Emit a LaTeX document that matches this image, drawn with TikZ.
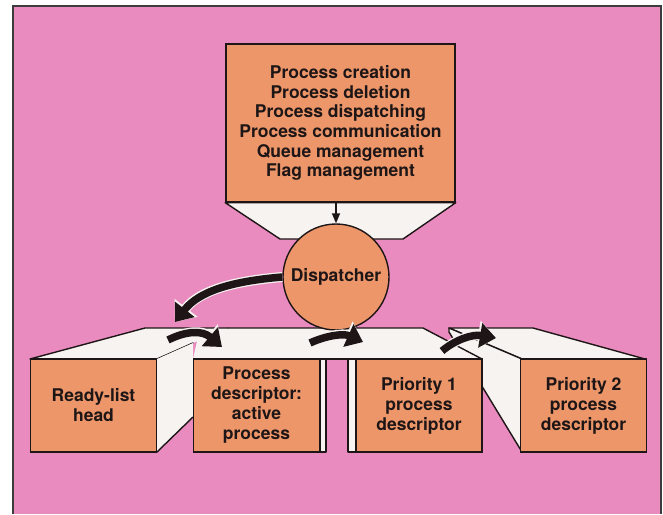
\documentclass[tikz,border=0pt]{standalone}
\usepackage{fontspec}
\setmainfont{TeX Gyre Heros}
\usetikzlibrary{arrows.meta, positioning}
\definecolor{bgpink}{RGB}{234,139,192}
\definecolor{boxorange}{RGB}{236,150,106}
\definecolor{facewhite}{RGB}{247,243,241}
\definecolor{inkblack}{RGB}{30,22,22}
\definecolor{framegray}{RGB}{60,60,60}
\tikzset{
  frontbox/.style={
    rectangle, draw=inkblack, line width=1.4pt,
    fill=boxorange, text=inkblack, align=center, inner sep=0pt,
    font=\fontsize{17.5}{19.6}\selectfont\bfseries
  },
  faceside/.style={draw=inkblack, line width=1.4pt, fill=facewhite, line join=round},
  facefill/.style={fill=facewhite},
  edge/.style={draw=inkblack, line width=1.4pt, line cap=round},
  bigarr/.style={-{Triangle[length=16pt, width=24pt]}, line width=7.5pt, draw=inkblack,
    preaction={draw=facewhite, line width=10pt, -{Triangle[length=18pt, width=28pt]}}},
  thinarr/.style={-{Triangle[length=10pt, width=8pt]}, line width=1.4pt, draw=inkblack},
}

\begin{document}
\begin{tikzpicture}[x=1pt, y=-1pt,
  descbox/.style={frontbox, minimum width=126pt, minimum height=93pt,
    font=\fontsize{17.5}{20}\selectfont\bfseries}
]
\useasboundingbox (0,0) rectangle (663,514);

% ── Panel ─────────────────────────────────────────────────
\fill[white] (0,0) rectangle (663,514);
\fill[bgpink] (13,6) rectangle (661,514);
\draw[framegray, line width=2pt] (13,514) -- (13,6) -- (661,6) -- (661,514);

% ── Function list and funnel ──────────────────────────────
\node[frontbox, minimum width=229pt, minimum height=158pt] (funcs) at (340.5,123)
  {Process creation\\Process deletion\\Process dispatching\\Process communication\\Queue management\\Flag management};
\draw[faceside] (funcs.south west) -- (funcs.south east) -- (403,239) -- (280,239) -- cycle;

% ── Priority 2 descriptor (back) ──────────────────────────
\draw[faceside] (449,328) -- (533,328) -- (645,359) -- (522,359) -- cycle;
\draw[faceside] (449,328) -- (522,359) -- (522,452) -- (449,332) -- cycle;
\node[descbox] (prio2) at (583.5,405.5) {Priority 2\\process\\descriptor};

% ── Shared top face, priority 1 descriptor ────────────────
\fill[facefill] (200,328) -- (423,328) -- (482,359) -- (193,359) -- cycle;
\draw[edge] (228,328) -- (423,328) -- (482,359);
\draw[edge] (193,359) -- (482,359);
\draw[faceside] (348,359) rectangle (356,452);
\node[descbox] (prio1) at (419,405.5) {Priority 1\\process\\descriptor};

% ── Ready-list head ───────────────────────────────────────
\fill[facefill] (30,359) -- (145,328) -- (228,328) -- (193,343) -- (157,359) -- cycle;
\draw[edge] (30,359) -- (145,328) -- (228,328);
\draw[edge] (157,359) -- (193,343);
\fill[facefill] (157,359) -- (193,343) -- (193,417) -- (157,452) -- cycle;
\draw[edge] (157,452) -- (193,417);
\node[descbox] (ready) at (93.5,405.5) {Ready-list\\head};

% ── Active process descriptor ─────────────────────────────
\draw[faceside] (320,359) rectangle (326,452);
\node[descbox] (active) at (256.5,405.5) {Process\\descriptor:\\active\\process};

% ── Dispatcher ────────────────────────────────────────────
\node[frontbox, circle, minimum size=106pt] (disp) at (336,277) {Dispatcher};
\draw[thinarr] (funcs.south -| disp.north) -- (disp.north);

% ── Queue links ───────────────────────────────────────────
\coordinate (readyhead)  at (175,322);
\coordinate (readytop)   at (168,340);
\coordinate (activetop)  at (222,347);
\coordinate (activeback) at (310,343);
\coordinate (prio1top)   at (363,342);
\coordinate (prio1back)  at (442,351);
\coordinate (prio2top)   at (496,338);

\draw[bigarr] (disp.west) .. controls (235,281) and (200,290) .. (readyhead);
\draw[bigarr] (readytop) .. controls (186,331) and (202,330) .. (activetop);
\draw[bigarr] (activeback) .. controls (325,336) and (343,333) .. (prio1top);
\draw[bigarr] (prio1back) .. controls (455,340) and (472,334) .. (prio2top);

\end{tikzpicture}
\end{document}
